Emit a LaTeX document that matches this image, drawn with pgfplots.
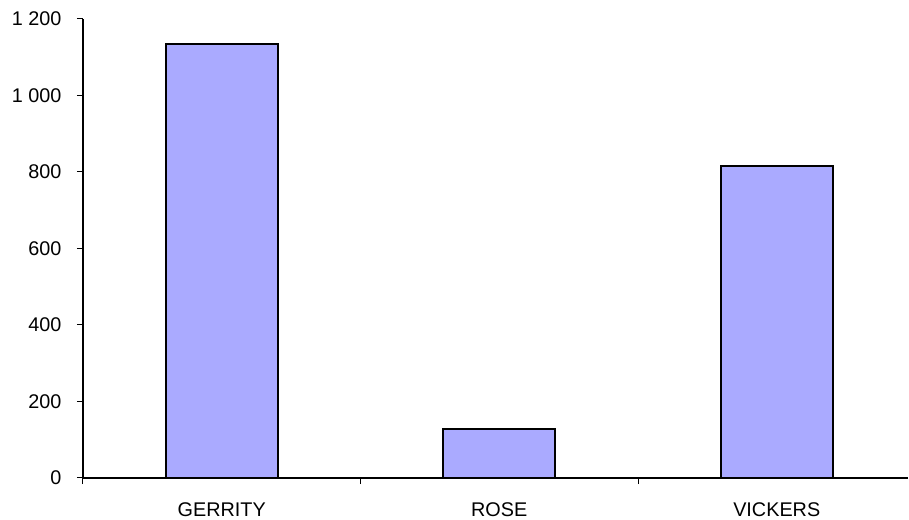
\documentclass[border=0pt]{standalone}
\usepackage{pgfplots}
\pgfplotsset{compat=1.18}
\usepackage{fontspec}
\setmainfont{Liberation Sans}
\definecolor{barfill}{RGB}{170,170,255}

\begin{document}
\begin{tikzpicture}
  \begin{axis}[
      scale only axis,
      width=825pt,
      height=459pt,
      xmin=-0.5, xmax=2.473,
      ymin=0, ymax=1200,
      axis x line=bottom,
      axis y line=left,
      axis line style={-, black, line width=1.2pt},
      x axis line style={line width=1.5pt},
      xtick={0,1,2},
      xticklabels={GERRITY,ROSE,VICKERS},
      major x tick style={draw=none},
      minor xtick={-0.5,0.5,1.5},
      minor tick length=6pt,
      minor x tick style={black, line width=1pt},
      ytick={0,200,...,1200},
      tick align=outside,
      major tick length=6pt,
      y tick style={black, line width=1pt},
      tick label style={font=\fontsize{19.8}{22}\selectfont},
      xticklabel style={yshift=-15pt},
      yticklabel style={xshift=-12pt},
      /pgf/number format/.cd, 1000 sep={\ }, assume math mode=true,
    ]
    \addplot[ybar, bar width=112pt, fill=barfill, draw=black, line width=1.6pt]
      coordinates {(0,1135) (1,128) (2,816)};
  \end{axis}
  \path (current axis.south west) ++(-83pt,-41pt) rectangle ++(909pt,519pt);
\end{tikzpicture}
\end{document}
